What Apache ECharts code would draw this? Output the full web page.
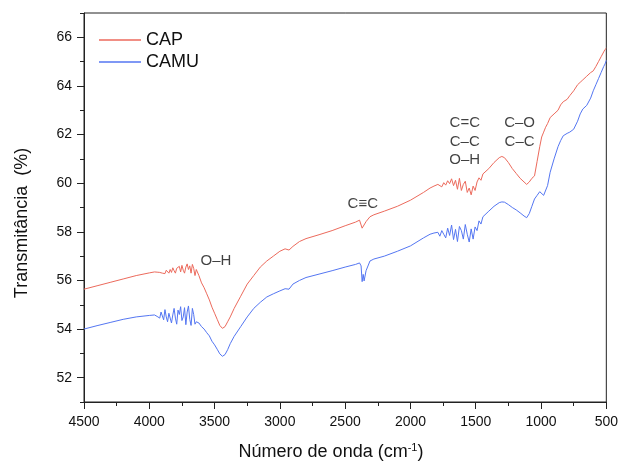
<!DOCTYPE html>
<html>
<head>
<meta charset="utf-8">
<script src="https://cdn.jsdelivr.net/npm/echarts@6/dist/echarts.min.js"></script>
<style>html,body{margin:0;padding:0;background:#fff}#c{width:621px;height:464px}</style>
</head>
<body>
<div id="c"></div>
<script>
const waveNumbers = [4500,4400,4300,4200,4100,4000,3960,
3950,3940,3930,3920,3910,3900,3890,3880,3870,3860,3850,3840,3830,3820,3810,3800,3790,3780,3770,3760,3750,3740,3730,3720,3710,3700,3690,3680,3670,3660,3650,3640,
3620,3600,3580,3560,3540,3520,3500,3480,3460,3440,3420,3400,3380,3350,3300,3250,3200,3150,3100,3050,3000,2960,2930,2900,2850,2800,2700,2600,2500,2420,2390,2378,2370,2362,2355,2340,2310,2280,2200,2100,2000,1900,1850,
1820,1805,1790,1775,1760,1745,1730,1715,1700,1685,1670,1655,1640,1625,1610,1595,1580,1565,1550,1535,1520,1505,1490,1475,1460,1445,1430,
1400,1360,1320,1300,1280,1250,1220,1190,1160,1130,1110,1090,1070,1050,1030,1010,995,980,965,950,930,900,870,850,830,800,780,750,720,700,680,650,620,600,580,560,540,520,510,500];

const capValues = [55.64,55.78,55.92,56.06,56.2,56.31,56.35,
56.36,56.34,56.38,56.33,56.4,56.3,56.35,56.28,56.42,56.37,56.3,56.45,56.33,56.52,56.4,56.3,56.5,56.44,56.58,56.35,56.62,56.42,56.3,56.55,56.68,56.45,56.6,56.3,56.66,56.5,56.2,56.45,
56.2,55.9,55.7,55.45,55.2,54.9,54.65,54.4,54.15,54.03,54.1,54.3,54.5,54.85,55.35,55.85,56.2,56.55,56.8,57.0,57.2,57.3,57.25,57.4,57.6,57.72,57.88,58.05,58.25,58.4,58.48,58.4,58.15,58.22,58.17,58.42,58.62,58.7,58.85,59.05,59.3,59.62,59.8,
59.88,59.82,59.95,59.9,59.85,60.02,59.92,60.1,59.98,60.18,59.9,60.12,59.75,60.2,59.7,59.95,60.08,59.62,59.8,59.52,59.88,59.7,60.05,60.22,60.12,60.38,60.3,
60.6,60.85,61.05,61.1,61.05,60.85,60.6,60.4,60.2,60.05,59.95,60.05,60.2,60.3,60.9,61.5,61.9,62.1,62.3,62.45,62.7,62.85,63.0,63.22,63.35,63.45,63.6,63.8,64.05,64.15,64.25,64.4,64.55,64.62,64.8,65.0,65.2,65.4,65.5,65.55];

const camuValues = [54.0,54.14,54.27,54.4,54.5,54.56,54.58,
54.58,54.52,54.6,54.45,54.7,54.62,54.38,54.8,54.5,54.3,54.65,54.72,54.25,54.58,54.85,54.45,54.2,54.78,54.6,54.92,54.35,54.5,54.88,54.18,54.7,54.95,54.4,54.15,54.85,54.6,54.2,54.3,
54.25,54.1,54.0,53.85,53.72,53.5,53.35,53.17,52.98,52.88,52.95,53.15,53.4,53.7,54.1,54.5,54.85,55.1,55.32,55.45,55.57,55.66,55.64,55.85,56.0,56.12,56.26,56.4,56.55,56.66,56.72,56.6,55.95,56.25,55.98,56.4,56.8,56.88,57.0,57.2,57.42,57.75,57.9,
57.95,57.88,57.98,57.82,58.05,57.9,57.75,58.15,57.85,58.28,57.68,58.1,57.6,58.22,58.05,57.7,58.3,57.9,57.58,58.12,57.7,58.2,58.05,58.45,58.32,58.62,58.55,
58.85,59.05,59.2,59.23,59.22,59.12,59.0,58.9,58.78,58.65,58.58,58.75,59.05,59.35,59.5,59.65,59.72,59.5,59.45,59.9,60.45,61.0,61.5,61.75,61.95,62.05,62.1,62.22,62.55,62.85,63.05,63.2,63.5,63.8,64.05,64.3,64.55,64.8,64.9,65.05];

const xTicks = [4500,4000,3500,3000,2500,2000,1500,1000,500];
const xMinorTicks = [4250,3750,3250,2750,2250,1750,1250,750];
const yTicks = [52,54,56,58,60,62,64,66];
const yMinorTicks = [51,53,55,57,59,61,63,65,67];

const annotationTexts = ['O–H','C≡C','C=C','C–C','O–H','C–O','C–C'];
const annotationX = [3490,2365,1584,1584,1584,1164,1164];
const annotationY = [56.79,59.17,62.5,61.72,60.95,62.5,61.72];

const FONT = 'Liberation Sans, Arial, sans-serif';
const chart = echarts.init(document.getElementById('c'), null, {renderer:'canvas'});

function pairs(vals){ return waveNumbers.map((w,i)=>[w, vals[i]]); }

const xBase = {type:'value', min:500, max:4500, inverse:true, position:'bottom', splitLine:{show:false}};
const yBase = {type:'value', min:51, max:67, position:'left', splitLine:{show:false}};

chart.setOption({
  animation:false,
  backgroundColor:'#fff',
  textStyle:{fontFamily:FONT},
  grid:{left:84, right:14, top:13, bottom:62, show:true, borderColor:'#222', borderWidth:1, backgroundColor:'transparent'},
  legend:{
    data:[{name:'CAP', icon:'rect'},{name:'CAMU', icon:'rect'}], orient:'vertical', left:94, top:26, itemWidth:42, itemHeight:1.5, itemGap:4,
    textStyle:{fontSize:18, color:'#111', fontFamily:FONT, lineHeight:18}
  },
  xAxis:[
    Object.assign({}, xBase, {
      axisLine:{show:true, lineStyle:{color:'#222', width:1}},
      axisTick:{show:true, customValues:xTicks, length:7, inside:false, lineStyle:{color:'#222'}},
      axisLabel:{customValues:xTicks, margin:13, fontSize:14, color:'#111', fontFamily:FONT, formatter:v=>String(v)}
    }),
    Object.assign({}, xBase, {
      axisLine:{show:false},
      axisTick:{show:true, customValues:xMinorTicks, length:4, lineStyle:{color:'#222'}},
      axisLabel:{show:false}
    })
  ],
  yAxis:[
    Object.assign({}, yBase, {
      axisLine:{show:true, lineStyle:{color:'#222', width:1}},
      axisTick:{show:true, customValues:yTicks, length:7, lineStyle:{color:'#222'}},
      axisLabel:{customValues:yTicks, margin:12, fontSize:14, color:'#111', fontFamily:FONT, formatter:v=>String(v)}
    }),
    Object.assign({}, yBase, {
      axisLine:{show:false},
      axisTick:{show:true, customValues:yMinorTicks, length:4, lineStyle:{color:'#222'}},
      axisLabel:{show:false}
    })
  ],
  series:[
    {name:'CAP', type:'line', data:pairs(capValues), symbol:'none', lineStyle:{color:'#ec6a5c', width:1}, itemStyle:{color:'#ec6a5c'}},
    {name:'CAMU', type:'line', data:pairs(camuValues), symbol:'none', lineStyle:{color:'#5476f2', width:1}, itemStyle:{color:'#5476f2'}},
    {name:'labels', type:'scatter', symbolSize:0, silent:true,
     data:annotationTexts.map((t,i)=>({value:[annotationX[i], annotationY[i]], name:t})),
     label:{show:true, position:'inside', formatter:p=>p.name, fontSize:15, color:'#111', fontFamily:FONT}}
  ],
  graphic:[
    {type:'text', x:22, y:223, rotation:Math.PI/2, style:{text:'Transmitância  (%)', fontSize:18, fill:'#111', font:'18px '+FONT, align:'center', verticalAlign:'middle'}},
    {type:'text', x:331, y:452, style:{
      text:'{a|Número de onda (cm}{s|-1}{a|)}', align:'center', verticalAlign:'middle',
      rich:{a:{fontSize:18, fontFamily:FONT, fill:'#111'}, s:{fontSize:11, fontFamily:FONT, fill:'#111', verticalAlign:'top', padding:[0,0,8,0]}}
    }}
  ]
});
</script>
</body>
</html>
